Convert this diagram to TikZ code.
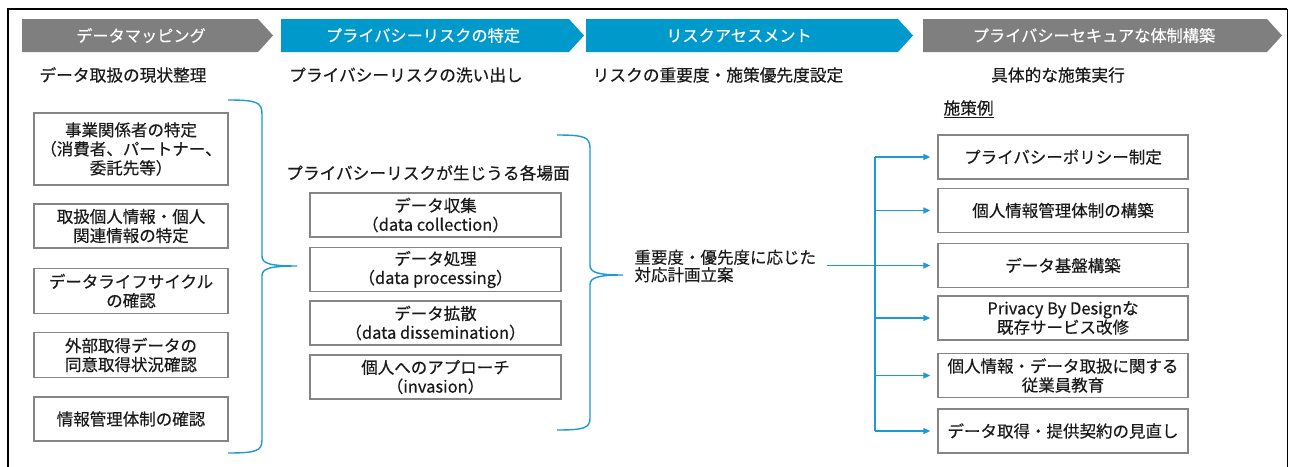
\documentclass[tikz,border=0pt]{standalone}
\usepackage{fontspec}
\setmainfont{Noto Sans CJK JP}[FakeBold=0.35]
\usetikzlibrary{arrows.meta}
\definecolor{cgray}{HTML}{7F7F7F}
\definecolor{cblue}{HTML}{0099CC}
\definecolor{lblue}{HTML}{1C9AD6}
\definecolor{bgray}{HTML}{858585}
\definecolor{txt}{HTML}{1A1A1A}
\begin{document}
\begin{tikzpicture}[x=1pt,y=-1pt,
  box/.style={draw=bgray,line width=1.3pt,fill=white,minimum height=44pt,align=center,inner sep=0pt,font=\fontsize{16.5}{19}\selectfont,text=txt},
  lbox/.style={box,minimum width=194pt},
  mbox/.style={box,minimum width=251pt},
  rbox/.style={box,minimum width=250pt},
  chev/.style={text=white,font=\fontsize{16.2}{18}\selectfont},
  sub/.style={text=txt,font=\fontsize{16.7}{19}\selectfont},
  brace/.style={draw=lblue,line width=1.4pt},
  conn/.style={draw=lblue,line width=1.4pt},
  arr/.style={conn,-{Triangle[length=7pt,width=6pt]}}
]
\useasboundingbox (0,0) rectangle (1290,466);
% frame
\draw[line width=2pt] (8,480) -- (8,8.5) -- (1287,8.5);
\draw[line width=1pt] (1287,8.5) -- (1287,480);
% chevrons
\fill[cgray] (22,19) -- (258,19) -- (273,35.5) -- (258,52) -- (22,52) -- cycle;
\fill[cblue] (281,19) -- (569,19) -- (584,35.5) -- (569,52) -- (281,52) -- cycle;
\fill[cblue] (586,19) -- (898,19) -- (913,35.5) -- (898,52) -- (586,52) -- cycle;
\fill[cgray] (923,19) -- (1267,19) -- (1282,35.5) -- (1267,52) -- (923,52) -- cycle;
\node[chev] (c1) at (141,35.5) {データマッピング};
\node[chev] (c2) at (423,35.5) {プライバシーリスクの特定};
\node[chev] (c3) at (739,35.5) {リスクアセスメント};
\node[chev] (c4) at (1094,35.5) {プライバシーセキュアな体制構築};
% subtitles
\node[sub] (s1) at (123,75) {データ取扱の現状整理};
\node[sub] (s2) at (406,75) {プライバシーリスクの洗い出し};
\node[sub] (s3) at (718,75) {リスクの重要度・施策優先度設定};
\node[sub] (s4) at (1058,75) {具体的な施策実行};
% left boxes
\node[lbox,minimum height=72pt] (l1) at (131,149) {事業関係者の特定\\（消費者、パートナー、\\委託先等）};
\node[lbox] (l2) at (131,226) {取扱個人情報・個人\\関連情報の特定};
\node[lbox,minimum height=45pt] (l3) at (131,291) {データライフサイクル\\の確認};
\node[lbox,minimum height=45pt] (l4) at (131,355) {外部取得データの\\同意取得状況確認};
\node[lbox] (l5) at (131,419) {情報管理体制の確認};
% brace 1
\draw[brace] (228,100) .. controls (256,100) and (262,102) .. (262,114) -- (262,256)
  .. controls (262,263) and (268,266) .. (297,266)
  .. controls (268,266) and (262,269) .. (262,276) -- (262,440)
  .. controls (262,451) and (256,453) .. (228,453);
% middle
\node[sub] (mt) at (428,173) {プライバシーリスクが生じうる各場面};
\node[mbox] (m1) at (435.5,215) {データ収集\\（data collection）};
\node[mbox] (m2) at (435.5,269.5) {データ処理\\（data processing）};
\node[mbox] (m3) at (435.5,323) {データ拡散\\（data dissemination）};
\node[mbox] (m4) at (435.5,377) {個人へのアプローチ\\（invasion）};
% brace 2
\draw[brace] (557,135) .. controls (584,135) and (590,137) .. (590,148) -- (590,265)
  .. controls (590,272) and (596,275) .. (623,275)
  .. controls (596,275) and (590,278) .. (590,285) -- (590,418)
  .. controls (590,428) and (584,430) .. (557,430);
% plan text
\node[sub,align=left,font=\fontsize{16.5}{17.5}\selectfont,anchor=west] (plan) at (631,266) {重要度・優先度に応じた\\対応計画立案};
% right
\node[sub,anchor=west] (ex) at (940,109) {\underline{施策例}};
\node[rbox] (r1) at (1063,157) {プライバシーポリシー制定};
\node[rbox] (r2) at (1063,210.5) {個人情報管理体制の構築};
\node[rbox] (r3) at (1063,265.5) {データ基盤構築};
\node[rbox] (r4) at (1063,318) {Privacy By Designな\\既存サービス改修};
\node[rbox] (r5) at (1063,375.5) {個人情報・データ取扱に関する\\従業員教育};
\node[rbox] (r6) at (1063,431) {データ取得・提供契約の見直し};
% connectors
\coordinate (jt) at (875,157);
\coordinate (jb) at (875,431);
\draw[conn] (jt) -- (jb);
\draw[arr,shorten >=7pt] (827,265.5) -- (r3.west);
\foreach \r in {r1,r2,r4,r5,r6}{
  \draw[arr,shorten >=7pt] (jt |- \r.west) -- (\r.west);
}
\end{tikzpicture}
\end{document}
